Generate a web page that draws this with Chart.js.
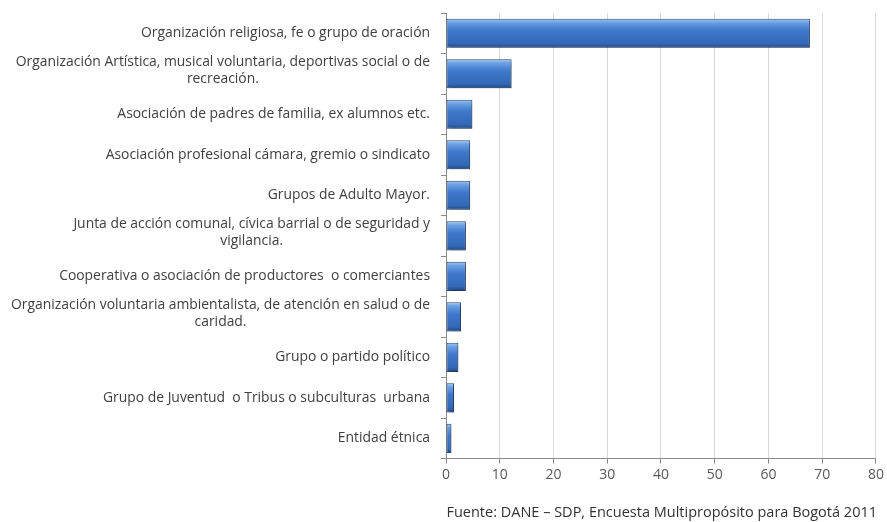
<!DOCTYPE html>
<html>
<head>
<meta charset="utf-8">
<script src="https://cdn.jsdelivr.net/npm/chart.js@4"></script>
<style>
    html, body { margin: 0; padding: 0; background: #fff; }
    #wrap { width: 887px; height: 522px; }
</style>
</head>
<body>
<div id="wrap"><canvas id="chart"></canvas></div>
<script>
// --- Data ---
const categories = [
    ['Organización religiosa, fe o grupo de oración'],
    ['Organización Artística, musical voluntaria, deportivas social o de', 'recreación.'],
    ['Asociación de padres de familia, ex alumnos etc.'],
    ['Asociación profesional cámara, gremio o sindicato'],
    ['Grupos de Adulto Mayor.'],
    ['Junta de acción comunal, cívica barrial o de seguridad y', 'vigilancia.'],
    ['Cooperativa o asociación de productores  o comerciantes'],
    ['Organización voluntaria ambientalista, de atención en salud o de', 'caridad.'],
    ['Grupo o partido político'],
    ['Grupo de Juventud  o Tribus o subculturas  urbana'],
    ['Entidad étnica']
];
const values = [67.7, 12.2, 4.9, 4.5, 4.5, 3.7, 3.7, 2.8, 2.3, 1.5, 1.0];
const xTicks = [0, 10, 20, 30, 40, 50, 60, 70, 80];
const sourceText = 'Fuente: DANE – SDP, Encuesta Multipropósito para Bogotá 2011';

const FONT = '"Open Sans", sans-serif';

// bevelled blue fill, vertical gradient across each bar
function barFill(ctx) {
    const chart = ctx.chart;
    const y = chart.scales.y;
    if (!y || y.top === undefined) return '#3d73c2';
    const mid = y.getPixelForValue(ctx.dataIndex);
    const half = (y.height / categories.length) * 0.72 / 2;
    const g = chart.ctx.createLinearGradient(0, mid - half, 0, mid + half);
    g.addColorStop(0, '#a4c8f0');
    g.addColorStop(0.14, '#6a9fe2');
    g.addColorStop(0.4, '#3f78cc');
    g.addColorStop(0.85, '#3368b6');
    g.addColorStop(1, '#1f4682');
    return g;
}

// y labels: block right aligned, lines centered within block (like Excel wrap)
const labelPlugin = {
    id: 'labels',
    afterDraw(chart) {
        const ctx = chart.ctx;
        const y = chart.scales.y;
        const right = y.right - 16;
        const lh = 17;
        ctx.save();
        ctx.font = '13.9px ' + FONT;
        ctx.fillStyle = '#404040';
        ctx.textBaseline = 'middle';
        ctx.textAlign = 'center';
        categories.forEach((lines, i) => {
            const c = y.getPixelForValue(i);
            const w = Math.max(...lines.map(l => ctx.measureText(l).width));
            const start = c - (lines.length - 1) * lh / 2 - (lines.length > 1 ? 3 : 0);
            lines.forEach((l, k) => {
                ctx.fillText(l, right - w / 2, start + k * lh);
            });
        });
        ctx.restore();
    }
};

const shadowPlugin = {
    id: 'shadow',
    beforeDatasetsDraw(chart) {
        const ctx = chart.ctx;
        ctx.save();
        ctx.shadowColor = 'rgba(0,0,0,0.35)';
        ctx.shadowBlur = 3;
        ctx.shadowOffsetX = 2;
        ctx.shadowOffsetY = 2;
    },
    afterDatasetsDraw(chart) {
        chart.ctx.restore();
    }
};

new Chart(document.getElementById('chart'), {
    type: 'bar',
    data: {
        labels: categories,
        datasets: [{
            data: values,
            backgroundColor: barFill,
            borderColor: '#254a80',
            borderWidth: 1,
            borderSkipped: false,
            barPercentage: 0.72,
            categoryPercentage: 1.0
        }]
    },
    options: {
        indexAxis: 'y',
        responsive: true,
        maintainAspectRatio: false,
        animation: false,
        devicePixelRatio: 1,
        layout: { padding: { top: 13, right: 10, left: 0, bottom: 0 } },
        plugins: {
            legend: { display: false },
            tooltip: { enabled: false },
            title: {
                display: true,
                position: 'bottom',
                align: 'end',
                text: sourceText,
                color: '#333',
                font: { family: FONT, size: 14.5, weight: 'normal', lineHeight: 1.2 },
                padding: { top: 8, bottom: 0 }
            }
        },
        scales: {
            x: {
                min: 0,
                max: 80,
                afterBuildTicks(scale) {
                    scale.ticks = xTicks.map(v => ({ value: v }));
                },
                afterFit(scale) { scale.height = 38; },
                grid: {
                    color: '#d9d9d9',
                    tickColor: '#8c8c8c',
                    tickLength: 5,
                    drawTicks: true
                },
                border: { color: '#8c8c8c' },
                ticks: {
                    color: '#595959',
                    font: { family: FONT, size: 14 },
                    padding: 3
                }
            },
            y: {
                afterFit(scale) { scale.width = 446; },
                grid: {
                    drawOnChartArea: false,
                    offset: true,
                    tickColor: '#8c8c8c',
                    tickLength: 5
                },
                border: { color: '#8c8c8c' },
                ticks: { display: false }
            }
        }
    },
    plugins: [shadowPlugin, labelPlugin]
});
</script>
</body>
</html>
